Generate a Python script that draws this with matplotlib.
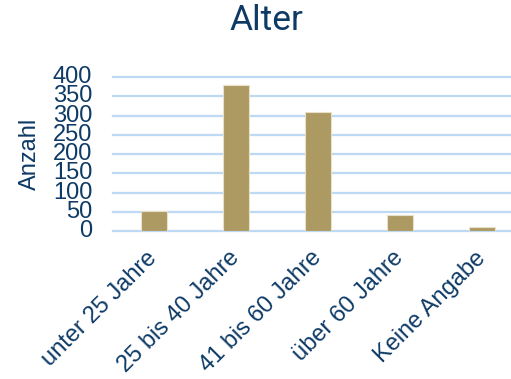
import matplotlib
matplotlib.use("Agg")
import matplotlib.pyplot as plt

categories = ["unter 25 Jahre", "25 bis 40 Jahre", "41 bis 60 Jahre", "über 60 Jahre", "Keine Angabe"]
values = [52, 379, 308, 41, 11]
yticks = [0, 50, 100, 150, 200, 250, 300, 350, 400]

navy = "#0E3A66"
grid_c = "#BDD9F3"
bar_c = "#AD9A62"

plt.rcParams["font.family"] = ["Liberation Sans", "DejaVu Sans"]

fig = plt.figure(figsize=(5.11, 3.79), dpi=100)
ax = fig.add_axes([113/511, 1-231/379, 410/511, 154/379])

x = list(range(len(categories)))
ax.bar(x, values, width=0.32, color=bar_c, edgecolor="#E8E0C8", linewidth=0.8, zorder=3)
ax.set_xlim(-0.5, len(categories) - 0.5)
ax.set_ylim(0, 400)
ax.set_yticks(yticks)
ax.set_yticklabels([str(v) for v in yticks], fontsize=17, color=navy)
ax.set_xticks(x)
ax.set_xticklabels(categories, rotation=45, ha="right", va="center", rotation_mode="anchor",
                   fontsize=17, color=navy)
ax.tick_params(axis="both", length=0)
ax.tick_params(axis="y", pad=15)
ax.tick_params(axis="x", pad=17)
for lab in ax.get_yticklabels():
    lab.set_verticalalignment("center")
for v in yticks:
    ax.axhline(v, color=grid_c, linewidth=1.6, zorder=0, clip_on=False)
for s in ax.spines.values():
    s.set_visible(False)
ax.set_ylabel("Anzahl", fontsize=17, color=navy)
ax.yaxis.set_label_coords(-0.175, 0.5)

fig.text(266/511, 1-21/379, "Alter", ha="center", va="center", fontsize=25.5,
         color=navy, family="Roboto")

fig.savefig("out.png", dpi=100)
